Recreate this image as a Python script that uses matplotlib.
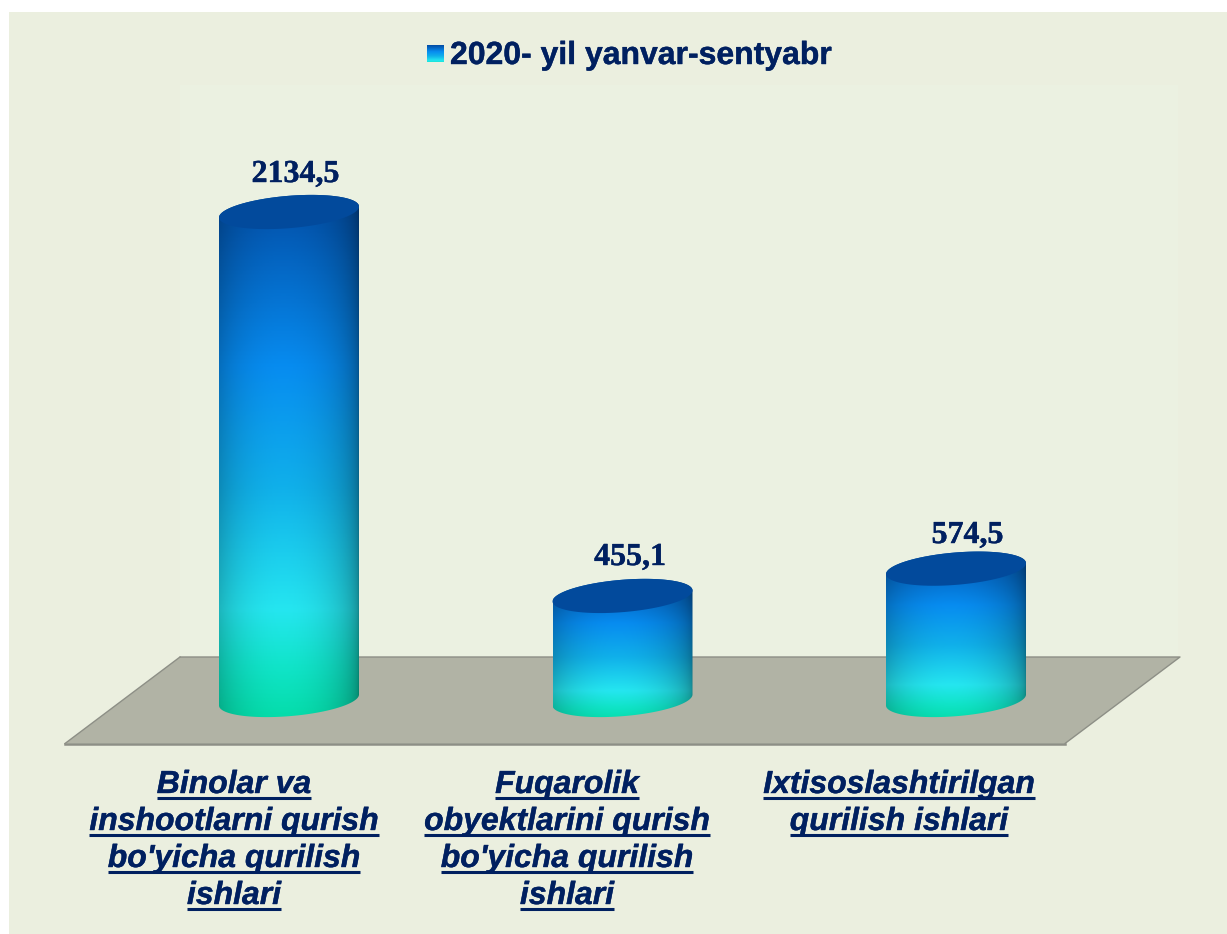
import numpy as np
import matplotlib
matplotlib.use("Agg")
import matplotlib.pyplot as plt
import matplotlib.patheffects as pe
from matplotlib.colors import LinearSegmentedColormap
from matplotlib.patches import Polygon, Rectangle

# ---- data ----
series_name = "2020- yil yanvar-sentyabr"
categories = [
    ["Binolar va", "inshootlarni qurish", "bo'yicha qurilish", "ishlari"],
    ["Fuqarolik", "obyektlarini qurish", "bo'yicha qurilish", "ishlari"],
    ["Ixtisoslashtirilgan", "qurilish ishlari"],
]
values = [2134.5, 455.1, 574.5]
value_labels = ["2134,5", "455,1", "574,5"]

# ---- layout / style ----
W, H = 1227, 934
NAVY = "#002060"
BG = "#ebefdf"
WALL = "#ebf1e1"
FLOOR = "#b1b3a5"
FLOOR_EDGE = "#8d8f86"
TOP = "#024a9c"
PX_PER_VALUE = 488 / 2134.5
BASE_PX = 700
CAT0_PX, CAT_STEP = 289, 333.5
HALF_W_PX, ELL_B_PX, ELL_K_PX = 70, 16.2, 5.5
LABEL_BASE_PX = [182, 565, 543]
LABEL_DX_PX = [6.5, 7.5, 11.5]
HEAVY = [pe.withStroke(linewidth=0.3, foreground=NAVY)]

grad = LinearSegmentedColormap.from_list(
    "cyl", [(0.0, "#024ca4"), (0.33, "#078cf0"), (0.56, "#10b0ea"),
            (0.79, "#25e6f0"), (0.90, "#10e4c8"), (1.0, "#04dca8")])

fig = plt.figure(figsize=(W / 100, H / 100), dpi=100, facecolor="white")

# decoration layer in pixel coordinates
deco = fig.add_axes([0, 0, 1, 1], zorder=1)
deco.set_xlim(0, W)
deco.set_ylim(H, 0)
deco.axis("off")
deco.add_patch(Rectangle((9, 12), W - 9, H - 12, fc=BG, ec="none"))
deco.add_patch(Rectangle((180, 85), 998, 572, fc=WALL, ec="none"))
deco.add_patch(Polygon([(65, 743.5), (1065, 743.5), (1180, 657), (180, 657)],
                       closed=True, fc=FLOOR, ec="none"))
deco.plot([180, 1180, 1065], [657, 657, 743.5], color=FLOOR_EDGE, lw=1.0, solid_capstyle="round")
deco.plot([65, 1065], [743.5, 743.5], color=FLOOR_EDGE, lw=1.8)
deco.plot([65, 180], [743.5, 657], color=FLOOR_EDGE, lw=1.0)

# legend
swatch = np.linspace(0, 0.86, 64).reshape(-1, 1)
deco.imshow(swatch, cmap=grad, vmin=0, vmax=1, extent=(427, 444, 62, 45), aspect="auto", zorder=3)
deco.set_xlim(0, W)
deco.set_ylim(H, 0)
deco.text(450, 64, series_name, family="Liberation Sans", weight="bold", fontsize=23.0,
          color=NAVY, ha="left", va="baseline", path_effects=HEAVY)

# value axes: category index horizontally, value vertically
ax = fig.add_axes([0, 0, 1, 1], zorder=2)
ax.patch.set_alpha(0)
ax.axis("off")
xlim = (-CAT0_PX / CAT_STEP, (W - CAT0_PX) / CAT_STEP)
ylim = (-(H - BASE_PX) / PX_PER_VALUE, BASE_PX / PX_PER_VALUE)

hw = HALF_W_PX / CAT_STEP
eb = ELL_B_PX / PX_PER_VALUE
ek = ELL_K_PX / PX_PER_VALUE
t = np.linspace(0, 2 * np.pi, 181)


def ring(cx, v, tt):
    return np.column_stack([cx + hw * np.cos(tt), v + eb * np.sin(tt) + ek * np.cos(tt)])


for i, (v, lab) in enumerate(zip(values, value_labels)):
    # vertical colour gradient times horizontal cylinder shading
    ny, nx = 400, 200
    gy = np.linspace(0, 1, ny)
    rgb = grad(gy)[:, :3][:, None, :].repeat(nx, axis=1)
    xs = np.linspace(-1, 1, nx)
    shade = 0.58 + 0.42 * np.clip(1 - (np.abs(xs + 0.08) / 1.08) ** 2.0, 0, 1) ** 0.55
    rgb = rgb * shade[None, :, None]
    ymin, ymax = -eb - ek, v + eb + ek
    im = ax.imshow(rgb, extent=(i - hw, i + hw, ymin, ymax), aspect="auto", origin="upper", zorder=3)
    tb = np.linspace(np.pi, 2 * np.pi, 91)    # lower half of the base ring
    tu = np.linspace(0, np.pi, 91)            # back half of the top ring
    body = np.vstack([ring(i, 0, tb), ring(i, v, tu)])
    clip = Polygon(body, closed=True, transform=ax.transData)
    im.set_clip_path(clip)
    ax.add_patch(Polygon(ring(i, v, t), closed=True, fc=TOP, ec="none", zorder=4))
    deco.text(CAT0_PX + CAT_STEP * i + LABEL_DX_PX[i], LABEL_BASE_PX[i], lab,
              family="Liberation Serif", weight="bold", fontsize=23.0,
              color=NAVY, ha="center", va="baseline", path_effects=HEAVY)

ax.set_xlim(*xlim)
ax.set_ylim(*ylim)

# category labels, underlined line by line
fig.canvas.draw()
renderer = fig.canvas.get_renderer()
LAB_X = [234, 567, 899]
for cx, lines in zip(LAB_X, categories):
    for j, line in enumerate(lines):
        base = 793 + 37 * j
        tx = deco.text(cx, base, line, family="Liberation Sans", weight="bold", style="italic",
                       fontsize=23.0, color=NAVY, ha="center", va="baseline", zorder=5,
                       path_effects=HEAVY)
        bb = tx.get_window_extent(renderer)
        deco.plot([bb.x0, bb.x1], [base + 4.5, base + 4.5], color=NAVY, lw=2.2,
                  solid_capstyle="butt", zorder=5)

fig.savefig("out.png", dpi=100, facecolor="white")
